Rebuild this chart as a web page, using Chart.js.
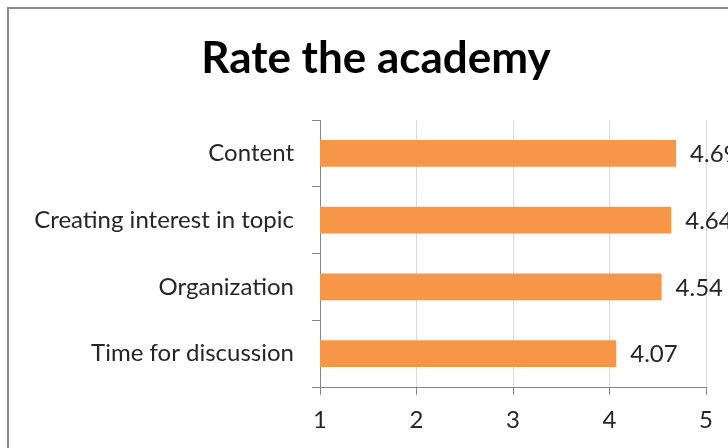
<!DOCTYPE html>
<html>
<head>
<meta charset="utf-8">
<script src="https://cdn.jsdelivr.net/npm/chart.js@4/dist/chart.umd.min.js"></script>
<style>
  html, body { margin: 0; padding: 0; background: #fff; overflow: hidden; }
  #wrap { position: relative; width: 728px; height: 448px; }
  #frame { position: absolute; left: 7px; top: 7px; width: 900px; height: 600px; border: 2px solid #8c8c8c; }
  canvas { position: absolute; left: 0; top: 0; }
</style>
</head>
<body>
<div id="wrap">
  <div id="frame"></div>
  <canvas id="chart" width="728" height="448"></canvas>
</div>
<script>
// 차트 데이터
const chartTitle = 'Rate the academy';
const categories = ['Content', 'Creating interest in topic', 'Organization', 'Time for discussion'];
const ratings = [4.69, 4.64, 4.54, 4.07];
const axisMin = 1;
const axisMax = 5;

const FONT = 'Lato, "Open Sans", sans-serif';

// 제목 직접 그리기
const titlePlugin = {
    id: 'titleText',
    afterDraw(chart) {
        const ctx = chart.ctx;
        ctx.save();
        ctx.font = 'bold 44px ' + FONT;
        ctx.fillStyle = '#000';
        ctx.textAlign = 'center';
        ctx.textBaseline = 'alphabetic';
        ctx.fillText(chartTitle, 376, 73);
        ctx.restore();
    }
};

// 막대 끝 값 표시
const valueLabels = {
    id: 'valueLabels',
    afterDatasetsDraw(chart) {
        const ctx = chart.ctx;
        const meta = chart.getDatasetMeta(0);
        ctx.save();
        ctx.font = '24px ' + FONT;
        ctx.fillStyle = '#262626';
        ctx.textAlign = 'left';
        ctx.textBaseline = 'middle';
        meta.data.forEach((bar, i) => {
            ctx.fillText(ratings[i].toFixed(2), bar.x + 14, bar.y + 1);
        });
        ctx.restore();
    }
};

new Chart(document.getElementById('chart'), {
    type: 'bar',
    data: {
        labels: categories,
        datasets: [{
            data: ratings,
            backgroundColor: '#F79646',
            borderWidth: 0,
            categoryPercentage: 1,
            barPercentage: 0.4
        }]
    },
    options: {
        indexAxis: 'y',
        responsive: false,
        animation: false,
        layout: { padding: { top: 120, right: 22, left: 0, bottom: 0 } },
        plugins: {
            legend: { display: false },
            title: { display: false },
            tooltip: { enabled: false }
        },
        scales: {
            x: {
                min: axisMin,
                max: axisMax,
                ticks: { stepSize: 1, color: '#262626', font: { family: FONT, size: 24 }, padding: 11 },
                grid: { color: '#d9d9d9', tickColor: '#868686', tickLength: 8 },
                border: { color: '#868686' },
                afterFit(scale) { scale.height = 61; }
            },
            y: {
                ticks: { color: '#262626', font: { family: FONT, size: 24 }, padding: 18 },
                grid: { drawOnChartArea: false, tickColor: '#868686', tickLength: 8 },
                border: { color: '#868686' },
                afterFit(scale) { scale.width = 320; }
            }
        }
    },
    plugins: [titlePlugin, valueLabels]
});
</script>
</body>
</html>
